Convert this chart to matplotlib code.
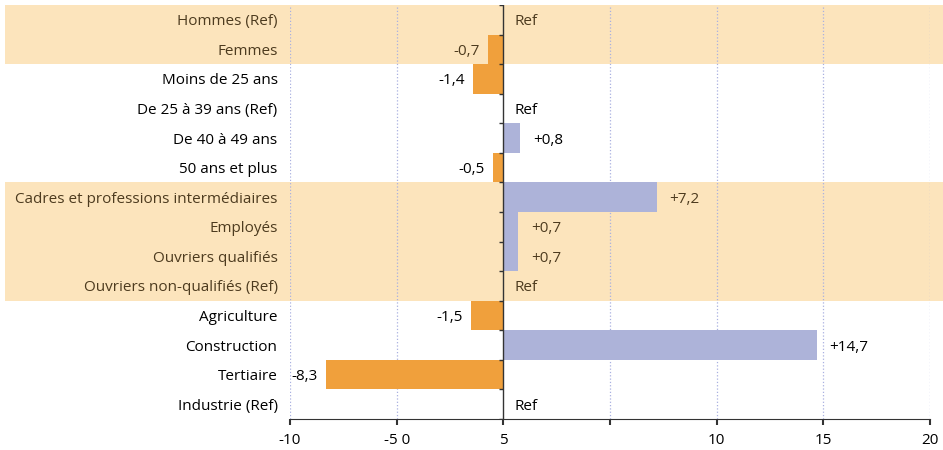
import matplotlib.pyplot as plt
import matplotlib.transforms as mtransforms
from matplotlib.patches import Rectangle
import numpy as np

plt.rcParams['font.family'] = ['Open Sans', 'DejaVu Sans']

# data, top to bottom (None = reference category)
categories = ['Hommes (Ref)', 'Femmes', 'Moins de 25 ans', 'De 25 à 39 ans (Ref)',
              'De 40 à 49 ans', '50 ans et plus', 'Cadres et professions intermédiaires',
              'Employés', 'Ouvriers qualifiés', 'Ouvriers non-qualifiés (Ref)',
              'Agriculture', 'Construction', 'Tertiaire', 'Industrie (Ref)']
values = [None, -0.7, -1.4, None, 0.8, -0.5, 7.2, 0.7, 0.7, None, -1.5, 14.7, -8.3, None]
shaded = [True, True, False, False, False, False, True, True, True, True,
          False, False, False, False]
tick_pos = [-10, -5, 0, 5, 10, 15, 20]
tick_labels = ['-10', '-5 0', '5', '', '10', '15', '20']

orange = '#F0A03C'
lavender = '#ADB3D9'
band = '#FCE4BC'
brown = '#4d3b1f'
fs = 11

fig = plt.figure(figsize=(9.43, 4.5), dpi=100)
ax = fig.add_axes([290 / 943, 1 - 419 / 450, 640 / 943, 414 / 450])

n = len(categories)
y = np.arange(n)
ax.set_ylim(n - 0.5, -0.5)
ax.set_xlim(-10, 20)

# shaded group bands, spanning under the labels too
trans = mtransforms.blended_transform_factory(fig.transFigure, ax.transData)
for i, s in enumerate(shaded):
    if s:
        ax.add_patch(Rectangle((5 / 943, i - 0.5), 1 - 5 / 943, 1.0, transform=trans,
                               facecolor=band, edgecolor='none', zorder=0, clip_on=False))

# grid
for t in tick_pos:
    if t != 0:
        ax.axvline(t, color='#a9b0e0', linestyle=':', linewidth=0.9, zorder=1)

vals = [v if v is not None else 0 for v in values]
colors = [orange if v < 0 else lavender for v in vals]
ax.barh(y, vals, height=1.0, color=colors, zorder=2)

ax.axvline(0, color='#333333', linewidth=1.0, zorder=3)
ax.plot(np.zeros(n + 1), np.arange(n + 1) - 0.5, linestyle='none', marker=0,
        markersize=3, color='#333333', zorder=3)

for i, v in enumerate(values):
    c = brown if shaded[i] else 'black'
    if v is None:
        ax.annotate('Ref', (0, i), xytext=(8, 0), textcoords='offset points',
                    va='center_baseline', ha='left', fontsize=fs, color=c)
    elif v < 0:
        ax.annotate(('%.1f' % v).replace('.', ','), (v, i), xytext=(-6, 0),
                    textcoords='offset points', va='center_baseline', ha='right',
                    fontsize=fs, color=c)
    else:
        ax.annotate(('+%.1f' % v).replace('.', ','), (v, i), xytext=(9, 0),
                    textcoords='offset points', va='center_baseline', ha='left',
                    fontsize=fs, color=c)

ax.set_yticks(y)
ax.set_yticklabels(categories, fontsize=fs, va='center_baseline')
for lbl, s in zip(ax.get_yticklabels(), shaded):
    lbl.set_color(brown if s else 'black')
ax.tick_params(axis='y', length=0, pad=9)

ax.set_xticks(tick_pos)
ax.set_xticklabels(tick_labels, fontsize=fs)
ax.tick_params(axis='x', length=4, width=1.5, direction='out', color='#333333', pad=6)

for side in ['top', 'right', 'left']:
    ax.spines[side].set_visible(False)
ax.spines['bottom'].set_color('#333333')
ax.set_facecolor('none')

plt.savefig('out.png', dpi=100)
